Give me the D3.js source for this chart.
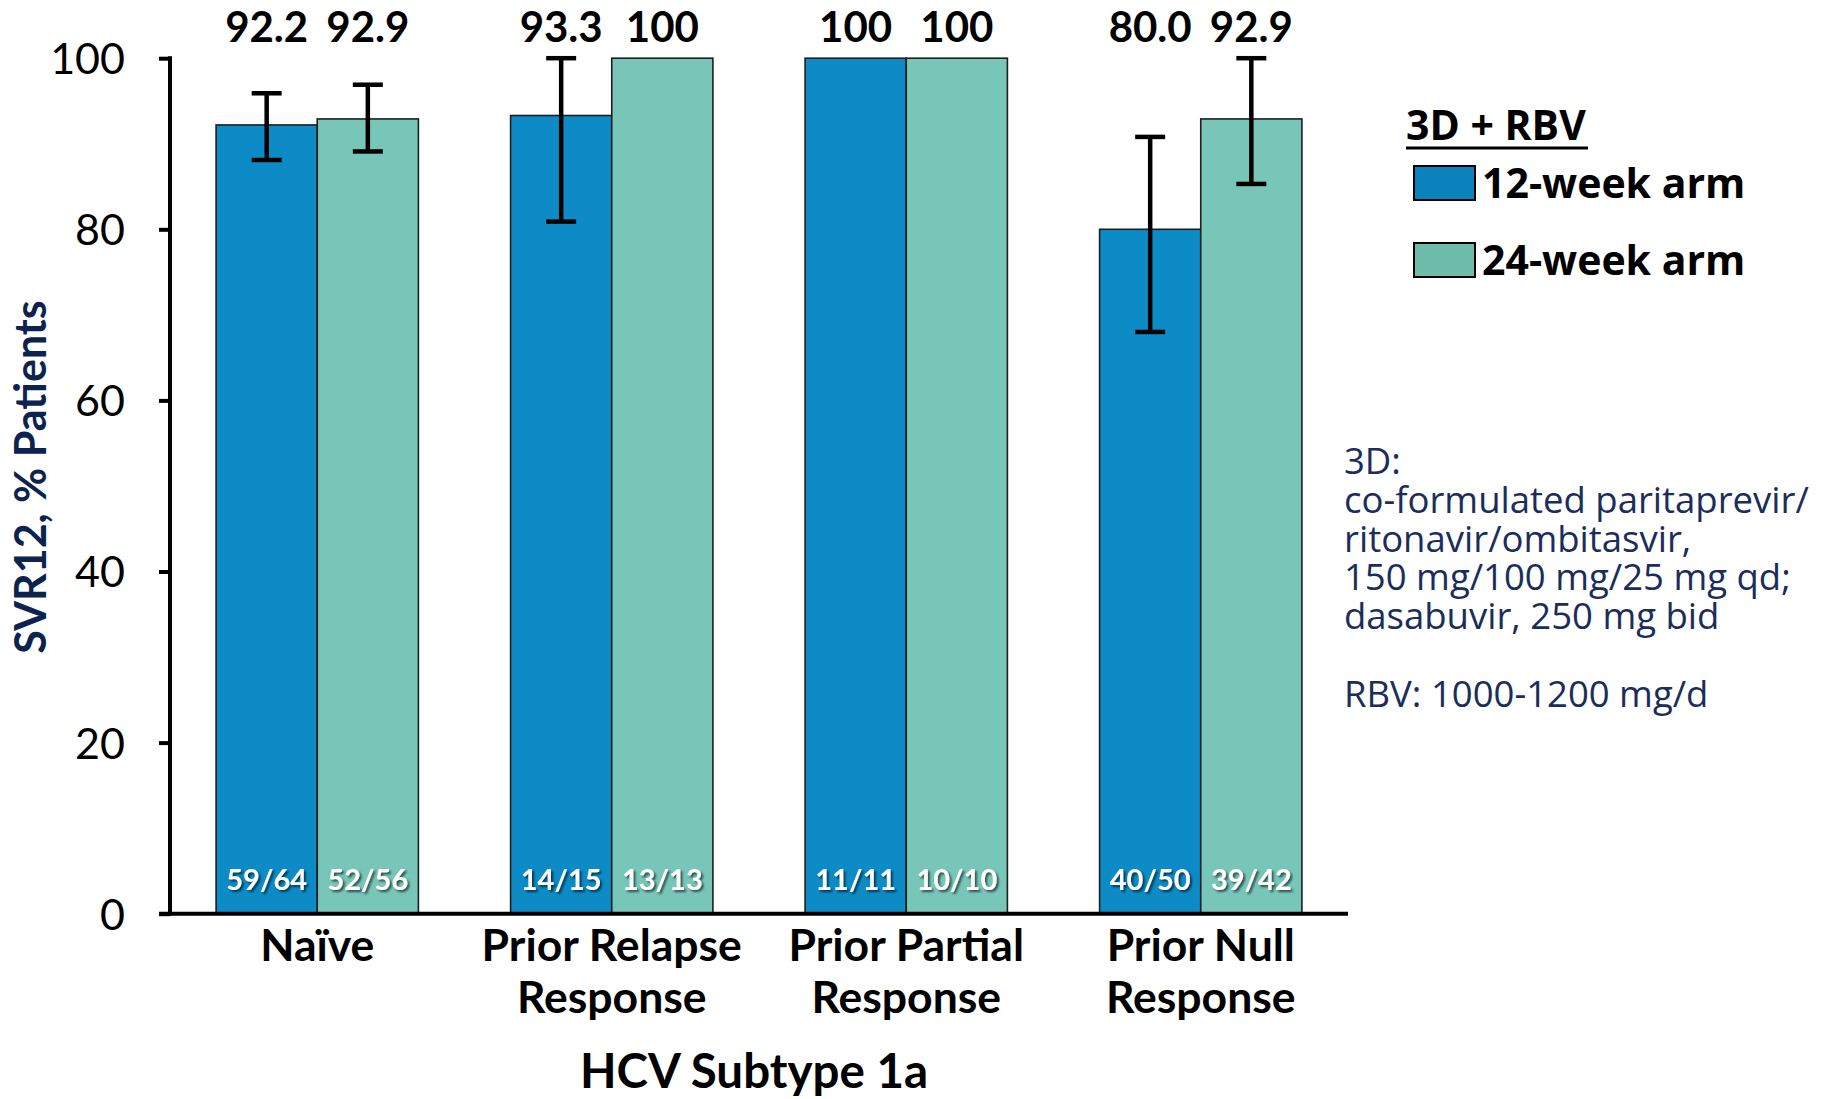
<!DOCTYPE html>
<html>
<head>
<meta charset="utf-8">
<script src="https://cdn.jsdelivr.net/npm/d3@7"></script>
<style>
  html, body { margin: 0; padding: 0; background: #fff; }
  svg { display: block; }
  .lato { font-family: Lato, "Open Sans", sans-serif; }
  .open { font-family: "Open Sans", Lato, sans-serif; }
</style>
</head>
<body>
<svg id="chart" width="1825" height="1099"></svg>
<script>
(function () {
  "use strict";

  // data
  const categories = [["Naïve"], ["Prior Relapse", "Response"], ["Prior Partial", "Response"], ["Prior Null", "Response"]];
  const catKeys    = categories.map(c => c.join(" "));
  const seriesKeys = ["12-week arm", "24-week arm"];
  const seriesColors = ["#0c8bc6", "#77c6b8"];
  const legendColors = ["#0a83bd", "#6dbcac"];

  const svr12 = [92.2, 93.3, 100, 80.0];
  const svr24 = [92.9, 100, 100, 92.9];
  const label12 = ["92.2", "93.3", "100", "80.0"];
  const label24 = ["92.9", "100", "100", "92.9"];
  const low12 = [88.1, 80.9, null, 68.0];
  const high12 = [95.9, 100, null, 90.8];
  const low24 = [89.1, null, null, 85.3];
  const high24 = [96.9, null, null, 100];
  const counts12 = ["59/64", "14/15", "11/11", "40/50"];
  const counts24 = ["52/56", "13/13", "10/10", "39/42"];
  const yTicks = [0, 20, 40, 60, 80, 100];

  const notes = ["3D:", "co-formulated paritaprevir/", "ritonavir/ombitasvir,", "150 mg/100 mg/25 mg qd;", "dasabuvir, 250 mg bid", "", "RBV: 1000-1200 mg/d"];

  const rows = [];
  catKeys.forEach((c, i) => {
    rows.push({ cat: c, s: 0, v: svr12[i], label: label12[i], lo: low12[i], hi: high12[i], n: counts12[i] });
    rows.push({ cat: c, s: 1, v: svr24[i], label: label24[i], lo: low24[i], hi: high24[i], n: counts24[i] });
  });

  const svg = d3.select("#chart");

  const axisX = 170, axisRight = 1348;
  const y = d3.scaleLinear().domain([0, 100]).range([913.7, 58.2]);
  const x0 = d3.scaleBand().domain(catKeys).range([axisX, axisRight]).paddingInner(0.313).paddingOuter(0.1565);
  const x1 = d3.scaleBand().domain([0, 1]).range([0, x0.bandwidth()]);

  const defs = svg.append("defs");
  const f = defs.append("filter").attr("id", "shadow").attr("x", "-20%").attr("y", "-20%").attr("width", "140%").attr("height", "140%");
  f.append("feDropShadow").attr("dx", 2).attr("dy", 2).attr("stdDeviation", 1.2).attr("flood-color", "#000").attr("flood-opacity", 0.6);

  // bars
  svg.append("g").selectAll("rect")
    .data(rows)
    .join("rect")
    .attr("x", d => x0(d.cat) + x1(d.s))
    .attr("y", d => y(d.v))
    .attr("width", x1.bandwidth())
    .attr("height", d => y(0) - y(d.v))
    .attr("fill", d => seriesColors[d.s])
    .attr("stroke", "#1e1e1e")
    .attr("stroke-width", 1.6);

  // error bars
  const eb = svg.append("g").attr("stroke", "#000").attr("stroke-width", 4.5).attr("fill", "none");
  rows.filter(d => d.lo !== null).forEach(d => {
    const cx = x0(d.cat) + x1(d.s) + x1.bandwidth() / 2;
    eb.append("line").attr("x1", cx).attr("x2", cx).attr("y1", y(d.hi)).attr("y2", y(d.lo));
    eb.append("line").attr("x1", cx - 15).attr("x2", cx + 15).attr("y1", y(d.hi)).attr("y2", y(d.hi));
    eb.append("line").attr("x1", cx - 15).attr("x2", cx + 15).attr("y1", y(d.lo)).attr("y2", y(d.lo));
  });

  // value labels on top
  svg.append("g").selectAll("text")
    .data(rows)
    .join("text")
    .attr("class", "lato")
    .attr("x", d => x0(d.cat) + x1(d.s) + x1.bandwidth() / 2)
    .attr("y", 42)
    .attr("text-anchor", "middle")
    .attr("font-size", 42)
    .attr("font-weight", 700)
    .attr("fill", "#000")
    .text(d => d.label);

  // n/N inside bars
  svg.append("g").selectAll("text")
    .data(rows)
    .join("text")
    .attr("class", "lato")
    .attr("x", d => x0(d.cat) + x1(d.s) + x1.bandwidth() / 2)
    .attr("y", 890)
    .attr("text-anchor", "middle")
    .attr("font-size", 29)
    .attr("font-weight", 700)
    .attr("fill", "#fff")
    .attr("filter", "url(#shadow)")
    .text(d => d.n);

  // y axis
  const yAxis = svg.append("g")
    .attr("transform", `translate(${axisX},0)`)
    .call(d3.axisLeft(y).tickValues(yTicks).tickSize(11).tickPadding(34));
  yAxis.select(".domain").remove();
  yAxis.selectAll(".tick line").attr("stroke", "#000").attr("stroke-width", 4);
  yAxis.selectAll(".tick text").attr("class", "lato").attr("font-size", 43).attr("fill", "#000").attr("dy", "0.36em");
  svg.append("line").attr("x1", axisX).attr("x2", axisX).attr("y1", y(100) - 2).attr("y2", y(0) + 2)
    .attr("stroke", "#000").attr("stroke-width", 4);

  // x axis baseline
  svg.append("line").attr("x1", axisX - 11).attr("x2", axisRight).attr("y1", y(0)).attr("y2", y(0))
    .attr("stroke", "#000").attr("stroke-width", 4);

  // category labels
  const catG = svg.append("g").selectAll("text")
    .data(categories)
    .join("text")
    .attr("class", "lato")
    .attr("text-anchor", "middle")
    .attr("font-size", 44.5)
    .attr("font-weight", 700)
    .attr("fill", "#000");
  catG.each(function (lines, i) {
    const t = d3.select(this);
    const cx = x0(catKeys[i]) + x0.bandwidth() / 2;
    lines.forEach((ln, j) => {
      t.append("tspan").attr("x", cx).attr("y", 961 + j * 52).text(ln);
    });
  });

  // axis titles
  svg.append("text").attr("class", "lato")
    .attr("x", 754).attr("y", 1088)
    .attr("text-anchor", "middle").attr("font-size", 47.5).attr("font-weight", 700).attr("fill", "#000")
    .text("HCV Subtype 1a");

  svg.append("text").attr("class", "lato")
    .attr("transform", "translate(46,477) rotate(-90)")
    .attr("text-anchor", "middle").attr("font-size", 43).attr("font-weight", 700).attr("fill", "#0c2350")
    .text("SVR12, % Patients");

  // legend
  const lg = svg.append("g");
  lg.append("text").attr("class", "open")
    .attr("x", 1406).attr("y", 140).attr("font-size", 41).attr("font-weight", 700).attr("fill", "#000")
    .text("3D + RBV");
  lg.append("line").attr("x1", 1406).attr("x2", 1588).attr("y1", 148).attr("y2", 148)
    .attr("stroke", "#000").attr("stroke-width", 3);
  seriesKeys.forEach((s, i) => {
    const top = 166 + i * 77;
    lg.append("rect").attr("x", 1414).attr("y", top).attr("width", 61).attr("height", 34)
      .attr("fill", legendColors[i]).attr("stroke", "#000").attr("stroke-width", 2);
    lg.append("text").attr("class", "open")
      .attr("x", 1482).attr("y", top + 32).attr("font-size", 41).attr("font-weight", 700).attr("fill", "#000")
      .text(s);
  });

  // footnote, one text block with a line per tspan
  svg.append("text")
    .attr("class", "open")
    .attr("font-size", 36.5)
    .attr("fill", "#1a2d5c")
    .selectAll("tspan")
    .data(notes)
    .join("tspan")
    .attr("x", 1344)
    .attr("y", (d, i) => 474 + i * 38.8)
    .text(d => d);
})();
</script>
</body>
</html>
